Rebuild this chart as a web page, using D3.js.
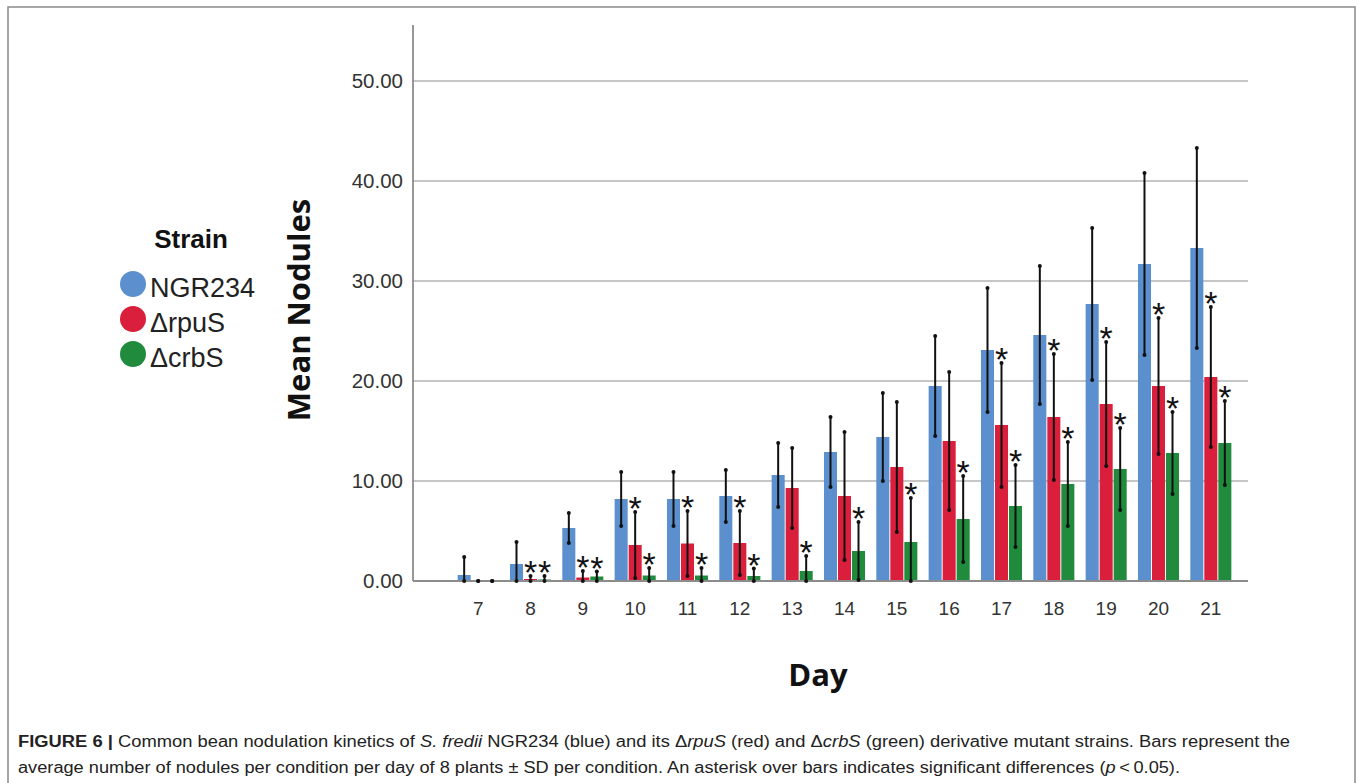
<!DOCTYPE html>
<html>
<head>
<meta charset="utf-8">
<script src="https://cdn.jsdelivr.net/npm/d3@7"></script>
<style>
  body { margin: 0; background: #fff; }
  svg { display: block; }
</style>
</head>
<body>
<div id="chart"></div>
<script>
// data
var days = ["7", "8", "9", "10", "11", "12", "13", "14", "15", "16", "17", "18", "19", "20", "21"];
var strains = ["NGR234", "\u0394rpuS", "\u0394crbS"];
var colors = ["#5b8fce", "#d91f3b", "#208a3d"];

var meanNGR = [0.6, 1.7, 5.3, 8.2, 8.2, 8.5, 10.6, 12.9, 14.4, 19.5, 23.1, 24.6, 27.7, 31.7, 33.3];
var sdNGR   = [1.8, 2.2, 1.5, 2.7, 2.7, 2.6, 3.2, 3.5, 4.4, 5.0, 6.2, 6.9, 7.6, 9.1, 10.0];
var meanRpu = [0, 0.2, 0.35, 3.6, 3.75, 3.8, 9.3, 8.5, 11.4, 14.0, 15.6, 16.4, 17.7, 19.5, 20.4];
var sdRpu   = [0, 0.3, 0.65, 3.3, 3.25, 3.2, 4.0, 6.4, 6.5, 6.9, 6.2, 6.3, 6.2, 6.8, 7.0];
var meanCrb = [0, 0.15, 0.45, 0.55, 0.55, 0.5, 1.0, 3.0, 3.9, 6.2, 7.5, 9.7, 11.2, 12.8, 13.8];
var sdCrb   = [0, 0.35, 0.5, 0.75, 0.75, 0.75, 1.5, 2.9, 4.4, 4.3, 4.1, 4.2, 4.1, 4.1, 4.2];
// 1 = asterisk drawn over that bar
var starRpu = [0, 1, 1, 1, 1, 1, 0, 0, 0, 0, 1, 1, 1, 1, 1];
var starCrb = [0, 1, 1, 1, 1, 1, 1, 1, 1, 1, 1, 1, 1, 1, 1];
var yTicks = [0, 10, 20, 30, 40, 50];

var svgWidth = 1358;
var svgHeight = 783;

var svg = d3.select("#chart")
  .append("svg")
  .attr("width", svgWidth)
  .attr("height", svgHeight);

svg.append("rect")
  .attr("width", svgWidth)
  .attr("height", svgHeight)
  .attr("fill", "#fff");

// outer frame of the figure
svg.append("rect")
  .attr("x", 8)
  .attr("y", 7)
  .attr("width", 1347)
  .attr("height", 820)
  .attr("fill", "none")
  .attr("stroke", "#8a8a8a")
  .attr("stroke-width", 1.5);

// plot area
var plotLeft = 413;
var plotRight = 1248;
var y = d3.scaleLinear().domain([0, 55.6]).range([581, 25]);
var x0 = d3.scaleBand().domain(days).range([452, 1237]);
var bw = x0.bandwidth();
var x1 = d3.scaleBand().domain(strains).range([(bw - 43) / 2, (bw + 43) / 2]).padding(0.07);

// gridlines
svg.append("g")
  .selectAll("line")
  .data(yTicks.filter(d => d > 0))
  .enter()
  .append("line")
  .attr("x1", plotLeft)
  .attr("x2", plotRight)
  .attr("y1", d => y(d))
  .attr("y2", d => y(d))
  .attr("stroke", "#c6c6c6")
  .attr("stroke-width", 1.8);

// y axis line
svg.append("line")
  .attr("x1", plotLeft).attr("x2", plotLeft)
  .attr("y1", 25).attr("y2", y(0))
  .attr("stroke", "#8c8c8c")
  .attr("stroke-width", 1.8);

// y tick labels
var yAxis = d3.axisLeft(y).tickValues(yTicks).tickFormat(d3.format(".2f")).tickSize(0).tickPadding(10);
var yAxisG = svg.append("g")
  .attr("transform", `translate(${plotLeft}, 0)`)
  .call(yAxis);
yAxisG.select(".domain").remove();
yAxisG.selectAll("text")
  .attr("font-family", "'Liberation Sans', Arial, sans-serif")
  .attr("font-size", 20.5)
  .attr("fill", "#333");

// x tick labels
var xAxis = d3.axisBottom(x0).tickSize(0).tickPadding(21);
var xAxisG = svg.append("g")
  .attr("transform", `translate(0, ${y(0)})`)
  .call(xAxis);
xAxisG.select(".domain").remove();
xAxisG.selectAll("text")
  .attr("font-family", "'Liberation Sans', Arial, sans-serif")
  .attr("font-size", 19)
  .attr("fill", "#333");

// build rows for the bars
var rows = [];
var means = [meanNGR, meanRpu, meanCrb];
var sds = [sdNGR, sdRpu, sdCrb];
var stars = [null, starRpu, starCrb];
days.forEach(function(day, i) {
  strains.forEach(function(s, j) {
    rows.push({
      day: day,
      strain: s,
      color: colors[j],
      mean: means[j][i],
      sd: sds[j][i],
      star: stars[j] ? stars[j][i] : 0
    });
  });
});

var groups = svg.append("g");

groups.selectAll("rect")
  .data(rows)
  .enter()
  .append("rect")
  .attr("x", d => x0(d.day) + x1(d.strain))
  .attr("y", d => y(d.mean))
  .attr("width", x1.bandwidth())
  .attr("height", d => y(0) - y(d.mean))
  .attr("fill", d => d.color);

// baseline drawn over the bars
svg.append("line")
  .attr("x1", plotLeft).attr("x2", plotRight)
  .attr("y1", y(0)).attr("y2", y(0))
  .attr("stroke", "#8c8c8c")
  .attr("stroke-width", 2);

// error bars
var cx = d => x0(d.day) + x1(d.strain) + x1.bandwidth() / 2;
var errG = svg.append("g");
errG.selectAll("line")
  .data(rows)
  .enter()
  .append("line")
  .attr("x1", cx).attr("x2", cx)
  .attr("y1", d => y(Math.max(0, d.mean - d.sd)))
  .attr("y2", d => y(d.mean + d.sd))
  .attr("stroke", "#111")
  .attr("stroke-width", 2);

errG.selectAll("circle.top")
  .data(rows)
  .enter()
  .append("circle")
  .attr("class", "top")
  .attr("cx", cx)
  .attr("cy", d => y(d.mean + d.sd))
  .attr("r", 2)
  .attr("fill", "#111");

errG.selectAll("circle.bot")
  .data(rows)
  .enter()
  .append("circle")
  .attr("class", "bot")
  .attr("cx", cx)
  .attr("cy", d => y(Math.max(0, d.mean - d.sd)))
  .attr("r", 2)
  .attr("fill", "#111");

// asterisks
svg.append("g")
  .selectAll("text")
  .data(rows.filter(d => d.star))
  .enter()
  .append("text")
  .attr("x", cx)
  .attr("y", d => y(d.mean + d.sd) + 8)
  .attr("text-anchor", "middle")
  .attr("font-family", "'Liberation Sans', Arial, sans-serif")
  .attr("font-size", 34)
  .attr("fill", "#111")
  .text("*");

// axis titles
svg.append("text")
  .attr("transform", "translate(310, 310) rotate(-90)")
  .attr("text-anchor", "middle")
  .attr("font-family", "'Open Sans', sans-serif")
  .attr("font-weight", 700)
  .attr("font-size", 31)
  .attr("fill", "#111")
  .text("Mean Nodules");

svg.append("text")
  .attr("x", 818)
  .attr("y", 686)
  .attr("text-anchor", "middle")
  .attr("font-family", "'Open Sans', sans-serif")
  .attr("font-weight", 700)
  .attr("font-size", 31)
  .attr("fill", "#111")
  .text("Day");

// legend
var legend = svg.append("g");
legend.append("text")
  .attr("x", 191)
  .attr("y", 248)
  .attr("text-anchor", "middle")
  .attr("font-family", "'Liberation Sans', Arial, sans-serif")
  .attr("font-weight", 700)
  .attr("font-size", 26)
  .attr("fill", "#111")
  .text("Strain");

var legY = [284, 319, 354];
strains.forEach(function(s, j) {
  legend.append("circle")
    .attr("cx", 133)
    .attr("cy", legY[j])
    .attr("r", 13)
    .attr("fill", colors[j]);
  legend.append("text")
    .attr("x", 150)
    .attr("y", legY[j] + 13)
    .attr("font-family", "'Liberation Sans', Arial, sans-serif")
    .attr("font-size", 27)
    .attr("fill", "#222")
    .text(s);
});

// caption
var capFont = "'Liberation Sans Narrow', 'Liberation Sans', Arial, sans-serif";
var cap1 = svg.append("text")
  .attr("x", 18)
  .attr("y", 747)
  .attr("font-family", capFont)
  .attr("font-size", 16)
  .attr("fill", "#222")
  .attr("textLength", 1272)
  .attr("lengthAdjust", "spacingAndGlyphs");
cap1.append("tspan").attr("font-weight", 700).text("FIGURE 6 | ");
cap1.append("tspan").text("Common bean nodulation kinetics of ");
cap1.append("tspan").attr("font-style", "italic").text("S. fredii");
cap1.append("tspan").text(" NGR234 (blue) and its \u0394");
cap1.append("tspan").attr("font-style", "italic").text("rpuS");
cap1.append("tspan").text(" (red) and \u0394");
cap1.append("tspan").attr("font-style", "italic").text("crbS");
cap1.append("tspan").text(" (green) derivative mutant strains. Bars represent the");

var cap2 = svg.append("text")
  .attr("x", 18)
  .attr("y", 773)
  .attr("font-family", capFont)
  .attr("font-size", 16)
  .attr("fill", "#222")
  .attr("textLength", 1162)
  .attr("lengthAdjust", "spacingAndGlyphs");
cap2.append("tspan").text("average number of nodules per condition per day of 8 plants \u00b1 SD per condition. An asterisk over bars indicates significant differences (");
cap2.append("tspan").attr("font-style", "italic").text("p");
cap2.append("tspan").text("\u2009<\u20090.05).");
</script>
</body>
</html>
